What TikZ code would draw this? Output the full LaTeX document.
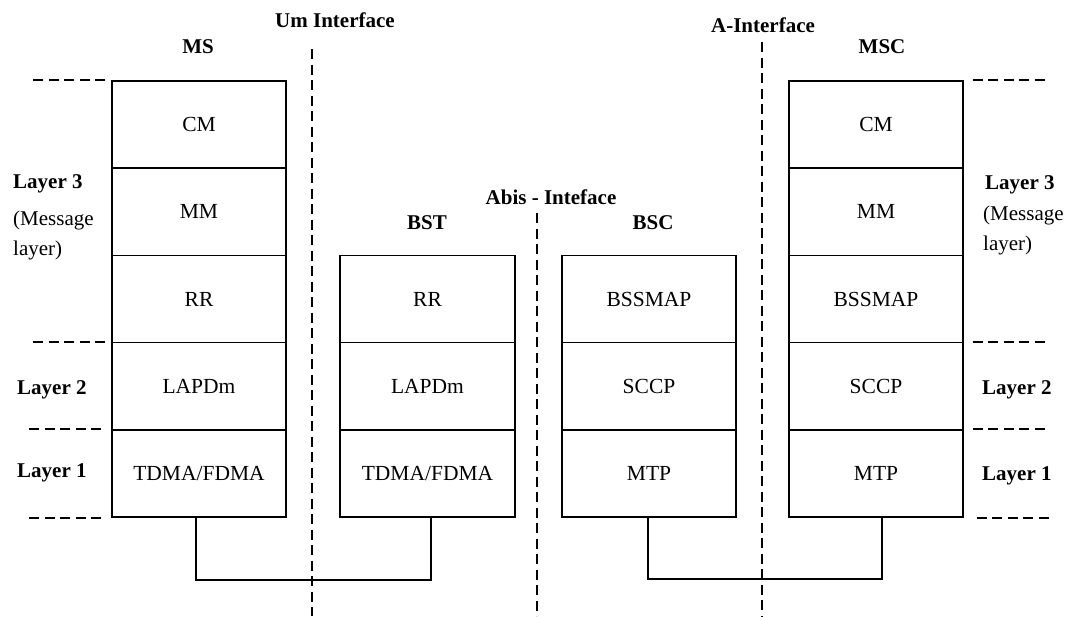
\documentclass[tikz,border=0pt]{standalone}
\usepackage{fontspec}
\setmainfont{Liberation Serif}
\begin{document}
\begin{tikzpicture}[x=1pt,y=-1pt,
  cell/.style={draw, line width=1.5pt, minimum width=174pt, minimum height=87.2pt,
    inner sep=0pt, font=\fontsize{21.5}{25}\selectfont},
  title/.style={inner sep=0pt, font=\fontsize{21}{25}\selectfont\bfseries},
  note/.style={inner sep=0pt, anchor=west, align=left, font=\fontsize{21}{30}\selectfont},
  layerdash/.style={line width=1.6pt, dash pattern=on 10pt off 5.5pt},
  ifdash/.style={line width=1.6pt, dash pattern=on 10pt off 5.5pt},
  wire/.style={line width=1.5pt}]
\useasboundingbox (0,0) rectangle (1065,616);

% ---- MS protocol stack
\node[cell] (msCM) at (199,124.6) {CM};
\node[cell] (msMM) at (199,211.8) {MM};
\node[cell] (msRR) at (199,299) {RR};
\node[cell] (msL2) at (199,386.2) {LAPDm};
\node[cell] (msL1) at (199,473.4) {TDMA/FDMA};
\node[title] (msT) at (198,47) {MS};

% ---- BST protocol stack
\node[cell, minimum width=175pt] (bstRR) at (427.5,299) {RR};
\node[cell, minimum width=175pt] (bstL2) at (427.5,386.2) {LAPDm};
\node[cell, minimum width=175pt] (bstL1) at (427.5,473.4) {TDMA/FDMA};
\node[title] (bstT) at (427,223) {BST};

% ---- BSC protocol stack
\node[cell] (bscAP) at (649,299) {BSSMAP};
\node[cell] (bscL2) at (649,386.2) {SCCP};
\node[cell] (bscL1) at (649,473.4) {MTP};
\node[title] (bscT) at (653,223) {BSC};

% ---- MSC protocol stack
\node[cell] (mscCM) at (876,124.6) {CM};
\node[cell] (mscMM) at (876,211.8) {MM};
\node[cell] (mscAP) at (876,299) {BSSMAP};
\node[cell] (mscL2) at (876,386.2) {SCCP};
\node[cell] (mscL1) at (876,473.4) {MTP};
\node[title] (mscT) at (882,47) {MSC};

% ---- interface labels and boundaries
\node[title] (umT) at (335,20) {Um Interface};
\node[title] (abisT) at (551,197) {Abis - Inteface};
\node[title] (aT) at (763,25) {A-Interface};
\coordinate (umTop) at (312,49);   \coordinate (umBot) at (312,616);
\coordinate (abisTop) at (537,213); \coordinate (abisBot) at (537,616);
\coordinate (aTop) at (762,42);    \coordinate (aBot) at (762,616);
\draw[ifdash] (umTop) -- (umBot);
\draw[ifdash] (abisTop) -- (abisBot);
\draw[ifdash] (aTop) -- (aBot);

% ---- layer labels, left
\node[title, anchor=west] (l3L) at (13,184) {Layer 3};
\node[note] (msgL) at (13,235) {(Message\\layer)};
\node[title, anchor=west] (l2L) at (17,390) {Layer 2};
\node[title, anchor=west] (l1L) at (17,473) {Layer 1};

% ---- layer labels, right
\node[title, anchor=west] (l3R) at (985,185) {Layer 3};
\node[note] (msgR) at (983,230) {(Message\\layer)};
\node[title, anchor=west] (l2R) at (982,390) {Layer 2};
\node[title, anchor=west] (l1R) at (982,476) {Layer 1};

% ---- layer boundaries, left
\draw[layerdash] ([xshift=-6pt]msCM.north west) -- ++(-76,0);
\draw[layerdash] ([xshift=-6pt]msL2.north west) -- ++(-76,0);
\draw[layerdash] ([xshift=-10pt]msL1.north west) -- ++(-76,0);
\draw[layerdash] ([xshift=-10pt]msL1.south west) -- ++(-76,0);

% ---- layer boundaries, right
\draw[layerdash] ([xshift=9pt]mscCM.north east) -- ++(74,0);
\draw[layerdash] ([xshift=9pt]mscL2.north east) -- ++(74,0);
\draw[layerdash] ([xshift=9pt]mscL1.north east) -- ++(74,0);
\draw[layerdash] ([xshift=13pt]mscL1.south east) -- ++(74,0);

% ---- physical links
\coordinate (busA) at (0,580);
\coordinate (busB) at (0,579);
\draw[wire] ([xshift=-3pt]msL1.south) |- ([xshift=3.5pt]bstL1.south |- busA) -- ([xshift=3.5pt]bstL1.south);
\draw[wire] ([xshift=-1pt]bscL1.south) |- ([xshift=6pt]mscL1.south |- busB) -- ([xshift=6pt]mscL1.south);
\end{tikzpicture}
\end{document}
